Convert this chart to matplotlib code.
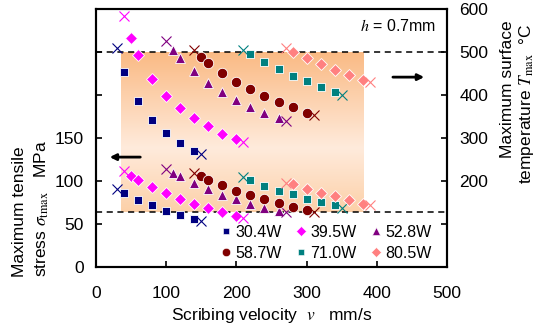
import numpy as np
import matplotlib
matplotlib.use("Agg")
import matplotlib.pyplot as plt
from matplotlib.lines import Line2D

plt.rcParams["font.family"] = ["Liberation Sans", "DejaVu Sans"]
plt.rcParams["mathtext.fontset"] = "stix"
plt.rcParams["font.size"] = 12.5

# Series data: filled points, then the two limit points (crosses)
labels = ["30.4W", "39.5W", "52.8W", "58.7W", "71.0W", "80.5W"]
colors = ["#000080", "#ff00ff", "#800080", "#800000", "#008080", "#ff8080"]
markers = ["s", "D", "^", "o", "s", "D"]
msizes = [5.5, 6.0, 6.5, 7.5, 5.5, 6.0]

v_30 = [40, 60, 80, 100, 120, 140]
T_30 = [454, 386, 343, 312, 289, 270]
S_30 = [85.7, 78, 71.7, 65.5, 60.8, 56.2]
vx_30, Tx_30, Sx_30 = [30, 150], [510, 263], [90.3, 53.1]

v_39 = [50, 60, 80, 100, 120, 140, 160, 180, 200]
T_39 = [533, 493, 438, 398, 370, 346, 327, 310, 297]
S_39 = [105.8, 101, 92.7, 85.7, 79.4, 73.3, 68.2, 63.6, 59.3]
vx_39, Tx_39, Sx_39 = [40, 210], [584, 291], [111.6, 57.3]

v_52 = [110, 120, 140, 160, 180, 200, 220, 240, 260]
T_52 = [505, 485, 455, 429, 407, 389, 373, 358, 346]
S_52 = [109.7, 105.4, 97.3, 90.3, 84.1, 78.7, 73.3, 68.6, 65.5]
vx_52, Tx_52, Sx_52 = [100, 270], [526, 340], [114, 63.6]

v_58 = [150, 160, 180, 200, 220, 240, 260, 280, 300]
T_58 = [489, 475, 451, 431, 413, 397, 383, 371, 359]
S_58 = [105.8, 101, 95, 88.7, 83.3, 78.7, 74.8, 70.1, 66.3]
vx_58, Tx_58, Sx_58 = [140, 310], [505, 353], [109, 63.6]

v_71 = [220, 240, 260, 280, 300, 320, 340]
T_71 = [495, 476, 460, 444, 432, 418, 408]
S_71 = [100.8, 94.5, 88, 84.5, 79, 75.2, 72.5]
vx_71, Tx_71, Sx_71 = [210, 350], [505, 400], [104.3, 69]

v_80 = [280, 300, 320, 340, 360, 380]
T_80 = [499, 485, 471, 459, 447, 434]
S_80 = [96.5, 91, 86, 82.2, 77.9, 73.6]
vx_80, Tx_80, Sx_80 = [270, 390], [510, 431], [98, 71.7]

series = [
    (v_30, T_30, S_30, vx_30, Tx_30, Sx_30),
    (v_39, T_39, S_39, vx_39, Tx_39, Sx_39),
    (v_52, T_52, S_52, vx_52, Tx_52, Sx_52),
    (v_58, T_58, S_58, vx_58, Tx_58, Sx_58),
    (v_71, T_71, S_71, vx_71, Tx_71, Sx_71),
    (v_80, T_80, S_80, vx_80, Tx_80, Sx_80),
]

# limits: allowable stress / temperature and the usable velocity window
stress_limit = 64
temp_limit = 500
window = (36, 381)

fig = plt.figure(figsize=(5.37, 3.29), dpi=100)
ax = fig.add_axes([0.1788, 0.1884, 0.6536, 0.7842])
ax2 = ax.twinx()

ax.set_xlim(0, 500)
ax.set_ylim(0, 300)
ax2.set_ylim(0, 600)

# shaded window with vertical gradient
stops = [0.0, 0.6, 1.0]
cols = np.array([[250, 186, 132], [255, 235, 220], [252, 208, 168]]) / 255
t = np.linspace(0, 1, 200)
grad = np.stack([np.interp(t, stops, cols[:, i]) for i in range(3)], axis=1)
ax.imshow(grad[:, None, :], aspect="auto", origin="upper",
          extent=[window[0], window[1], stress_limit, temp_limit / 2],
          zorder=0, interpolation="bilinear")

ax.axhline(stress_limit, color="k", ls="--", lw=1.1, dashes=(4, 3), zorder=1)
ax.axhline(temp_limit / 2, color="k", ls="--", lw=1.1, dashes=(4, 3), zorder=1)

handles = []
for (v, T, S, vx, Tx, Sx), lab, c, m, ms in zip(series, labels, colors, markers, msizes):
    ax.plot(v, S, ls="none", marker=m, ms=ms, color=c, mec="white", mew=0.6, zorder=3)
    ax.plot(vx, Sx, ls="none", marker="x", ms=7, color=c, mew=0.8, zorder=3)
    ax2.plot(v, T, ls="none", marker=m, ms=ms, color=c, mec="white", mew=0.6, zorder=3)
    ax2.plot(vx, Tx, ls="none", marker="x", ms=7, color=c, mew=0.8, zorder=3)
    handles.append(Line2D([], [], ls="none", marker=m, ms=ms * 0.8, color=c,
                          mec="white", mew=0.4, label=lab))

ax.set_xticks(range(0, 501, 100))
ax.set_yticks(range(0, 301, 50))
ax.set_yticklabels(["0", "50", "100", "150", "", "", ""])
ax2.set_yticks(range(0, 601, 100))
ax2.set_yticklabels(["", "", "200", "300", "400", "500", "600"])

ax.tick_params(axis="x", direction="in", length=4, width=1.2, pad=14)
ax.tick_params(axis="y", direction="in", length=4, width=1.2, pad=9)
ax2.tick_params(axis="y", direction="in", length=4, width=1.2, pad=9)
for a in (ax, ax2):
    for sp in a.spines.values():
        sp.set_linewidth(1.5)

ax.set_xlabel(r"Scribing velocity  $v$   mm/s", labelpad=3)

fig.text(20 / 537, 1 - 277 / 329, "Maximum tensile", rotation=90,
         ha="center", va="bottom")
fig.text(42 / 537, 1 - 277 / 329, r"stress $\sigma_{\mathrm{tmax}}$   MPa", rotation=90,
         ha="center", va="bottom")
fig.text(507 / 537, 1 - 20 / 329, "Maximum surface", rotation=90,
         ha="center", va="top")
fig.text(527 / 537, 1 - 184 / 329, r"temperature $T_{\mathrm{max}}$  °C", rotation=90,
         ha="center", va="bottom")

ax2.text(0.97, 0.934, r"$h$ = 0.7mm", transform=ax.transAxes, ha="right", va="center",
         fontsize=11.5)

# arrows pointing to the relevant axis
ax2.annotate("", xy=(0.031, 0.426), xytext=(0.134, 0.426), xycoords="axes fraction",
             arrowprops=dict(arrowstyle="-|>", lw=2, color="k", mutation_scale=9))
ax2.annotate("", xy=(0.943, 0.736), xytext=(0.838, 0.736), xycoords="axes fraction",
             arrowprops=dict(arrowstyle="-|>", lw=2, color="k", mutation_scale=9))

order = [0, 3, 1, 4, 2, 5]
ax2.legend([handles[i] for i in order], [labels[i] for i in order], ncol=3,
           loc="lower right", bbox_to_anchor=(0.975, 0.0), frameon=False,
           handletextpad=0.2, columnspacing=0.8, handlelength=0.8,
           labelspacing=0.35, fontsize=11.5, borderaxespad=0.0)

fig.savefig("out.png", dpi=100)
